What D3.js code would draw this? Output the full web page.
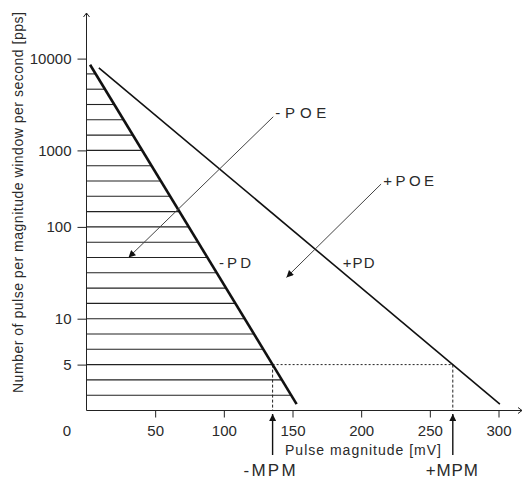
<!DOCTYPE html>
<html>
<head>
<meta charset="utf-8">
<script src="https://cdn.jsdelivr.net/npm/d3@7"></script>
<style>
  body { margin: 0; background: #fff; }
  text { font-family: "Liberation Sans", Arial, sans-serif; fill: #2a2a2a; }
</style>
</head>
<body>
<div id="chart"></div>
<script>
// x ticks in mV, y ticks are schematic levels with count labels
var xTicks = [50, 100, 150, 200, 250, 300];
var yLevels = [3, 6, 12, 17, 23];
var yLabels = ["5", "10", "100", "1000", "10000"];
var hatchLevels = d3.range(1, 23);   // 1..22
var mpmLevel = 3;                    // the "5 pps" level

// lines: [mV, level]
var minusPD = [[2.6, 22.6], [153, 0.42]];
var plusPD = [[9, 22.4], [301, 0.42]];

// annotation arrows: from -> to, in [mV, level]
var poeArrows = [
  {name: "-POE", from: [136, 19.2], to: [30.6, 10.0], label: [137.5, 19.1]},
  {name: "+POE", from: [214.5, 14.8], to: [145.6, 8.7], label: [216, 14.65]}
];
var pdLabels = [
  {name: "-PD", at: [96.5, 9.3]},
  {name: "+PD", at: [186.5, 9.3]}
];

var width = 525, height = 479;

var svg = d3.select("#chart")
  .append("svg")
  .attr("width", width)
  .attr("height", height);

var x = d3.scaleLinear().domain([0, 300]).range([86.5, 498.5]);
var y = d3.scaleLinear().domain([0, 23]).range([410.5, 58.6]);

var defs = svg.append("defs");
defs.append("marker")
  .attr("id", "head")
  .attr("viewBox", "0 0 10 10")
  .attr("refX", 10).attr("refY", 5)
  .attr("markerWidth", 9).attr("markerHeight", 7)
  .attr("markerUnits", "userSpaceOnUse")
  .attr("orient", "auto")
  .append("path").attr("d", "M0,0L10,5L0,10z").attr("fill", "#111");

// interpolate a PD line to find x at a level
function xAtLevel(line, lv) {
  var a = line[0], b = line[1];
  return a[0] + (a[1] - lv) / (a[1] - b[1]) * (b[0] - a[0]);
}

// hatch lines under -PD
svg.append("g")
  .selectAll("line")
  .data(hatchLevels)
  .enter()
  .append("line")
  .attr("x1", x(0))
  .attr("x2", function(d) { return x(xAtLevel(minusPD, d)); })
  .attr("y1", function(d) { return y(d); })
  .attr("y2", function(d) { return y(d); })
  .style("stroke", "#222")
  .style("stroke-width", 1.1);

// axes
var xAxis = svg.append("g")
  .attr("transform", "translate(0," + y(0) + ")")
  .call(d3.axisBottom(x).tickValues(xTicks).tickSize(7).tickPadding(8).tickSizeOuter(0));
var yAxis = svg.append("g")
  .attr("transform", "translate(" + x(0) + ",0)")
  .call(d3.axisLeft(y).tickValues(yLevels).tickSize(9).tickPadding(6).tickSizeOuter(0)
    .tickFormat(function(d, i) { return yLabels[i]; }));
[xAxis, yAxis].forEach(function(g) {
  g.select(".domain").remove();
  g.selectAll("line").style("stroke", "#222");
  g.selectAll("text").style("font-size", "15px").style("fill", "#2a2a2a")
    .style("font-family", "'Liberation Sans', Arial, sans-serif");
});

// axis lines with open arrow tips
svg.append("line").attr("x1", x(0)).attr("x2", 522).attr("y1", y(0)).attr("y2", y(0))
  .style("stroke", "#222");
svg.append("line").attr("x1", x(0)).attr("x2", x(0)).attr("y1", y(0)).attr("y2", 13)
  .style("stroke", "#222");
svg.append("path").attr("d", "M" + (x(0) - 3) + ",17L" + x(0) + ",13L" + (x(0) + 3) + ",17")
  .attr("fill", "none").style("stroke", "#222");
svg.append("path").attr("d", "M518," + (y(0) - 3) + "L522," + y(0) + "L518," + (y(0) + 3))
  .attr("fill", "none").style("stroke", "#222");

svg.append("text").attr("x", 67).attr("y", 436).attr("text-anchor", "middle")
  .style("font-size", "15px").text("0");

// dashed MPM guides
var mpm = [xAtLevel(minusPD, mpmLevel), xAtLevel(plusPD, mpmLevel)];
svg.append("line")
  .attr("x1", x(mpm[0])).attr("x2", x(mpm[1]))
  .attr("y1", y(mpmLevel)).attr("y2", y(mpmLevel))
  .style("stroke", "#222").style("stroke-dasharray", "2,2");
svg.selectAll(".mpmv")
  .data(mpm)
  .enter()
  .append("line")
  .attr("x1", function(d) { return x(d); })
  .attr("x2", function(d) { return x(d); })
  .attr("y1", y(mpmLevel)).attr("y2", y(0))
  .style("stroke", "#222").style("stroke-dasharray", "3,2");

// PD lines
var line = d3.line().x(function(d) { return x(d[0]); }).y(function(d) { return y(d[1]); });
svg.append("path").attr("d", line(minusPD)).attr("fill", "none")
  .style("stroke", "#111").style("stroke-width", 2.6);
svg.append("path").attr("d", line(plusPD)).attr("fill", "none")
  .style("stroke", "#111").style("stroke-width", 1.6);

// POE arrows
svg.selectAll(".poe")
  .data(poeArrows)
  .enter()
  .append("line")
  .attr("x1", function(d) { return x(d.from[0]); })
  .attr("y1", function(d) { return y(d.from[1]); })
  .attr("x2", function(d) { return x(d.to[0]); })
  .attr("y2", function(d) { return y(d.to[1]); })
  .attr("marker-end", "url(#head)")
  .style("stroke", "#444").style("stroke-width", 1);
svg.selectAll(".poelab")
  .data(poeArrows)
  .enter()
  .append("text")
  .attr("x", function(d) { return x(d.label[0]); })
  .attr("y", function(d) { return y(d.label[1]); })
  .attr("textLength", 51).attr("lengthAdjust", "spacing")
  .style("font-size", "15px")
  .text(function(d) { return d.name; });

svg.selectAll(".pdlab")
  .data(pdLabels)
  .enter()
  .append("text")
  .attr("x", function(d) { return x(d.at[0]); })
  .attr("y", function(d) { return y(d.at[1]); })
  .attr("textLength", 32).attr("lengthAdjust", "spacing")
  .style("font-size", "15px")
  .text(function(d) { return d.name; });

// MPM arrows under the axis
svg.selectAll(".mpma")
  .data(mpm)
  .enter()
  .append("line")
  .attr("x1", function(d) { return x(d); })
  .attr("x2", function(d) { return x(d); })
  .attr("y1", 455).attr("y2", 414)
  .attr("marker-end", "url(#head)")
  .style("stroke", "#111").style("stroke-width", 1.4);
svg.selectAll(".mpml")
  .data(["-MPM", "+MPM"])
  .enter()
  .append("text")
  .attr("x", function(d, i) { return x(mpm[i]) - 29 + i * 2; })
  .attr("y", 476)
  .attr("textLength", 52).attr("lengthAdjust", "spacing")
  .style("font-size", "17px")
  .text(function(d) { return d; });

// axis titles
svg.append("text")
  .attr("x", 285).attr("y", 455)
  .attr("textLength", 156).attr("lengthAdjust", "spacing")
  .style("font-size", "14px")
  .text("Pulse magnitude [mV]");
svg.append("text")
  .attr("transform", "translate(23,393) rotate(-90)")
  .attr("textLength", 381).attr("lengthAdjust", "spacing")
  .style("font-size", "14px")
  .text("Number of pulse per magnitude window per second [pps]");
</script>
</body>
</html>
